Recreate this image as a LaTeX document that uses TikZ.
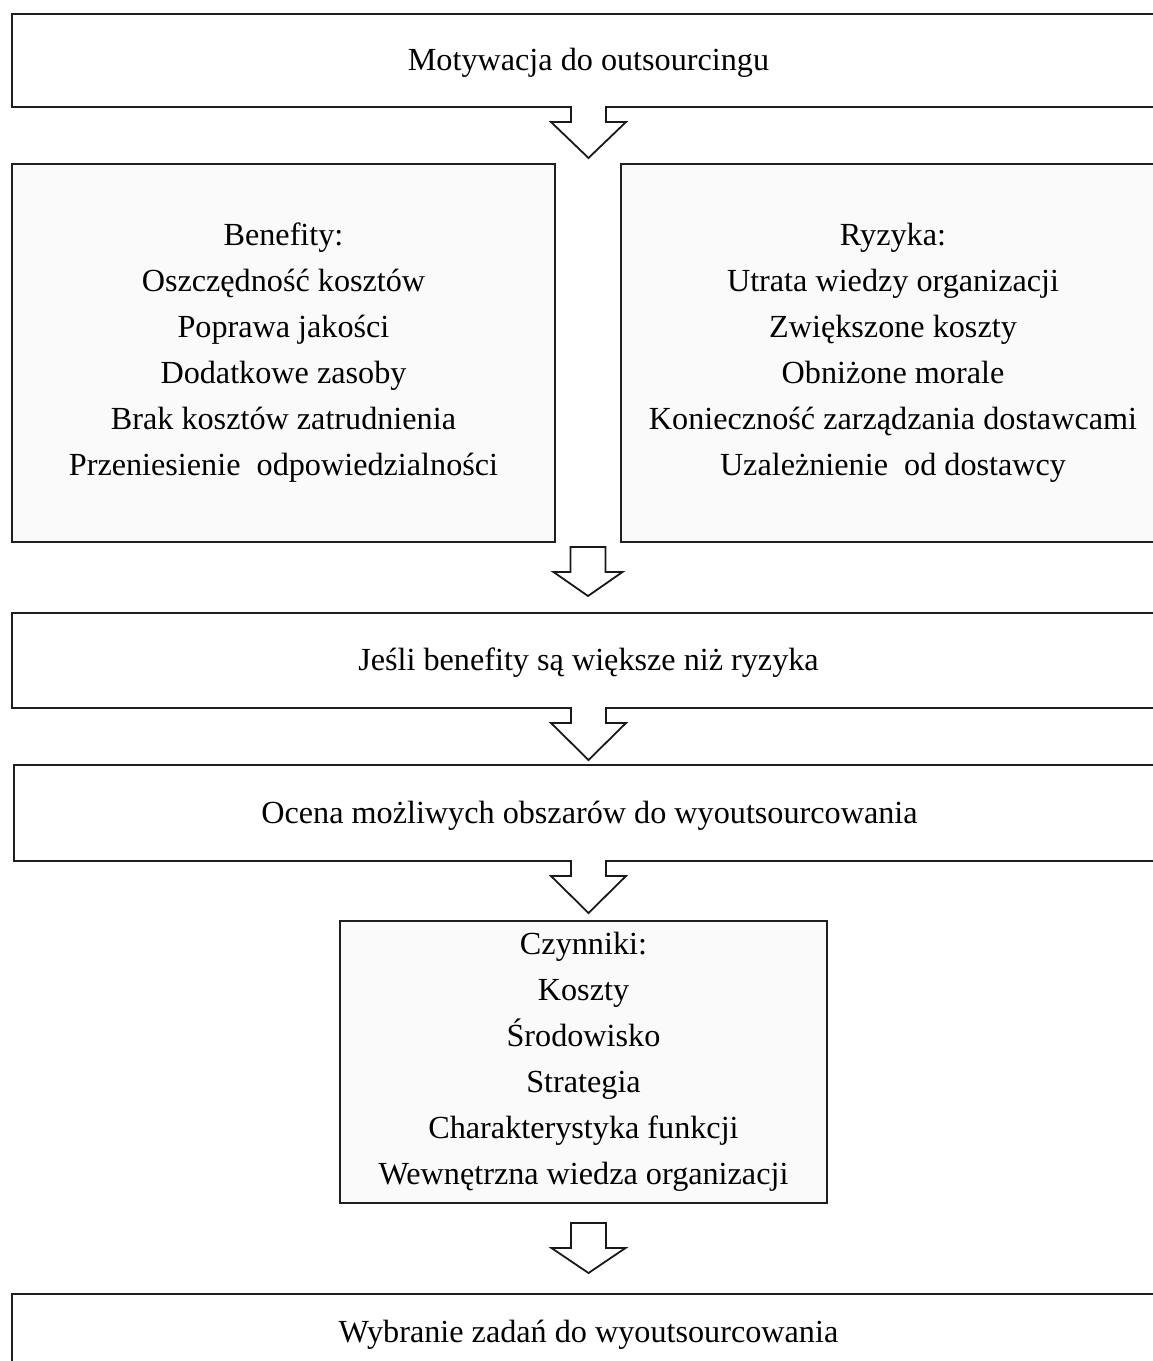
\documentclass[tikz,border=0pt]{standalone}
\usepackage{fontspec}
\setmainfont{Liberation Serif}
\usetikzlibrary{calc}
\begin{document}
\begin{tikzpicture}[x=1pt,y=-1pt,
  box/.style={draw=black!88, line width=2pt, fill=white, inner sep=0pt, outer sep=0pt,
    align=center, anchor=north west, font=\fontsize{32.2}{46}\selectfont},
  shaded/.style={fill=black!2},
  blk/.style={draw=black!90, line width=1.8pt, line join=miter},
  % block arrow whose shaft runs out of the box above it (top left open)
  pics/openarrow/.style n args={3}{code={
    \fill[white] (-17.5,-2.5) -- (-17.5,#1) -- (-#3,#1) -- (0,#1+#2) -- (#3,#1) -- (17.5,#1) -- (17.5,-2.5) -- cycle;
    \draw[blk] (-17.5,-1) -- (-17.5,#1) -- (-#3,#1) -- (0,#1+#2) -- (#3,#1) -- (17.5,#1) -- (17.5,-1);
  }},
  % free-standing block arrow
  pics/closedarrow/.style n args={4}{code={
    \draw[blk, fill=white] (-17.5,#1) -- (-17.5,#1+#2) -- (-#4,#1+#2) -- (0,#1+#2+#3) -- (#4,#1+#2) -- (17.5,#1+#2) -- (17.5,#1) -- cycle;
  }}]
\useasboundingbox[fill=white] (0,0) rectangle (1153,1361);

\node[box, minimum width=1153pt, minimum height=93pt, text depth=2pt] (motyw) at (12,14)
  {Motywacja do outsourcingu};

\node[box, shaded, minimum width=543pt, minimum height=378pt] (ben) at (12,164)
  {Benefity:\\ Oszczędność kosztów\\ Poprawa jakości\\ Dodatkowe zasoby\\
   Brak kosztów zatrudnienia\\ Przeniesienie\ \ odpowiedzialności};

\node[box, shaded, minimum width=544pt, minimum height=378pt] (ryz) at (621,164)
  {Ryzyka:\\ Utrata wiedzy organizacji\\ Zwiększone koszty\\ Obniżone morale\\
   Konieczność zarządzania dostawcami\\ Uzależnienie\ \ od dostawcy};

\node[box, minimum width=1153pt, minimum height=95pt, text depth=2pt] (jesli) at (12,613)
  {Jeśli benefity są większe niż ryzyka};

\node[box, minimum width=1151pt, minimum height=96pt, text depth=2pt] (ocena) at (14,765)
  {Ocena możliwych obszarów do wyoutsourcowania};

\node[box, shaded, minimum width=487pt, minimum height=282pt] (czyn) at (340,921)
  {Czynniki:\\ Koszty\\ Środowisko\\ Strategia\\ Charakterystyka funkcji\\
   Wewnętrzna wiedza organizacji};

\node[box, minimum width=1153pt, minimum height=76pt, text depth=2pt] (wyb) at (12,1294)
  {Wybranie zadań do wyoutsourcowania};

% block arrows between the stages
\path (motyw.south) pic {openarrow={15}{36}{37.5}};
\path ($(ben.south east)!0.5!(ryz.south west)$) pic {closedarrow={5}{25}{24}{34.5}};
\path (jesli.south) pic {openarrow={15}{37}{37.5}};
\path (ocena.south -| jesli.south) pic {openarrow={15}{37}{37.5}};
\path (czyn.south -| wyb.north) pic {closedarrow={20}{25}{25}{37}};
\end{tikzpicture}
\end{document}
